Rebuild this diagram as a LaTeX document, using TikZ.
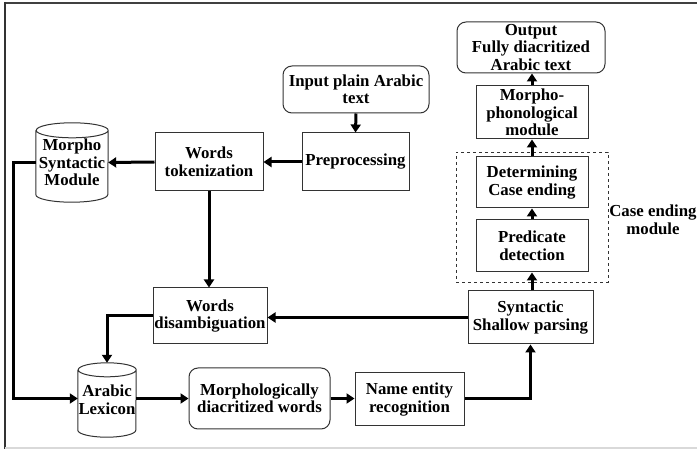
\documentclass[tikz,border=0pt]{standalone}
\usepackage{fontspec}
\setmainfont{Liberation Serif}
\usetikzlibrary{arrows.meta,calc}
\begin{document}
\begin{tikzpicture}[x=1pt,y=1pt,
  every node/.style={font=\bfseries\fontsize{16.8}{17.5}\selectfont, align=center, inner sep=0pt},
  box/.style={draw=black!80, line width=1pt, rectangle},
  rbox/.style={draw=black!80, line width=1pt, rectangle, rounded corners=9pt},
  cylnode/.style={rectangle},
  conn/.style={line width=3pt, -{Triangle[length=8pt,width=10pt]}}
]
\useasboundingbox (0,0) rectangle (697,450);
% frame
\draw[black!75, line width=1.5pt] (5,447) -- (697,447);
\draw[black!80, line width=2pt] (5,448) -- (5,1);
\draw[black!15, line width=2pt] (5,2) -- (697,2);

% nodes
\node[rbox, minimum width=146pt, minimum height=47pt] (inp) at (356,360.5) {Input plain Arabic\\text};
\node[box, minimum width=107pt, minimum height=58pt] (pre) at (355.5,288) {Preprocessing};
\node[box, minimum width=108pt, minimum height=58pt] (tok) at (209,288) {Words\\tokenization};
\node[cylnode, minimum width=72pt, minimum height=79pt] (msm) at (72,287.5) {Morpho\\Syntactic\\Module};
\node[box, minimum width=114pt, minimum height=56pt] (dis) at (210,134) {Words\\disambiguation};
\node[cylnode, minimum width=58pt, minimum height=74pt] (lex) at (107,50) {Arabic\\Lexicon};
\node[rbox, minimum width=141pt, minimum height=61pt] (mdw) at (259.5,51.5) {Morphologically\\diacritized words};
\node[box, minimum width=109pt, minimum height=53pt] (ner) at (409.5,50.5) {Name entity\\recognition};
\node[box, minimum width=125pt, minimum height=53pt] (syn) at (530.5,132.5) {Syntactic\\Shallow parsing};
\node[box, minimum width=112pt, minimum height=51pt] (det) at (532,267.5) {Determining\\Case ending};
\node[box, minimum width=112pt, minimum height=52pt] (prd) at (532,204) {Predicate\\detection};
\node[box, minimum width=112pt, minimum height=53pt] (mph) at (532,337.5) {Morpho-\\phonological\\module};
\node[rbox, minimum width=148pt, minimum height=51pt] (out) at (531,402.5) {Output\\Fully diacritized\\Arabic text};
\node[draw=black!80, dashed, line width=0.8pt, minimum width=152pt, minimum height=130pt] (cem) at (532,233) {};
\node (cemlabel) at (653,230) {Case ending\\module};

% cylinders
\foreach \n/\rx/\ry in {msm/36pt/7.5pt, lex/29pt/7pt}{
  \draw[black!80, line width=1pt]
    ([yshift=-\ry]\n.north west) -- ([yshift=\ry]\n.south west)
    arc[start angle=180, end angle=360, x radius=\rx, y radius=\ry]
    -- ([yshift=-\ry]\n.north east)
    arc[start angle=0, end angle=180, x radius=\rx, y radius=\ry]
    arc[start angle=180, end angle=360, x radius=\rx, y radius=\ry];
}

% connectors
\draw[conn] (inp.south) -- (pre.north);
\draw[conn] (pre.west) -- (tok.east);
\draw[conn] (tok.west) -- (msm.east);
\draw[conn] (msm.west) -- ++(-22,0) |- (lex.west |- mdw.west);
\draw[conn] (tok.south) -- (tok.south |- dis.north);
\draw[conn] (dis.west) -| (lex.north);
\draw[conn] (lex.east |- mdw.west) -- (mdw.west);
\draw[conn] (mdw.east) -- (mdw.east -| ner.west);
\draw[conn] (ner.east |- mdw.east) -| (syn.south);
\draw[conn] (syn.west) -- (syn.west -| dis.east);
\draw[conn] (syn.north -| prd.south) -- (prd.south);
\draw[conn] (prd.north) -- (det.south);
\draw[conn] (det.north) -- (mph.south);
\draw[conn] (mph.north) -- (mph.north |- out.south);
\end{tikzpicture}
\end{document}
